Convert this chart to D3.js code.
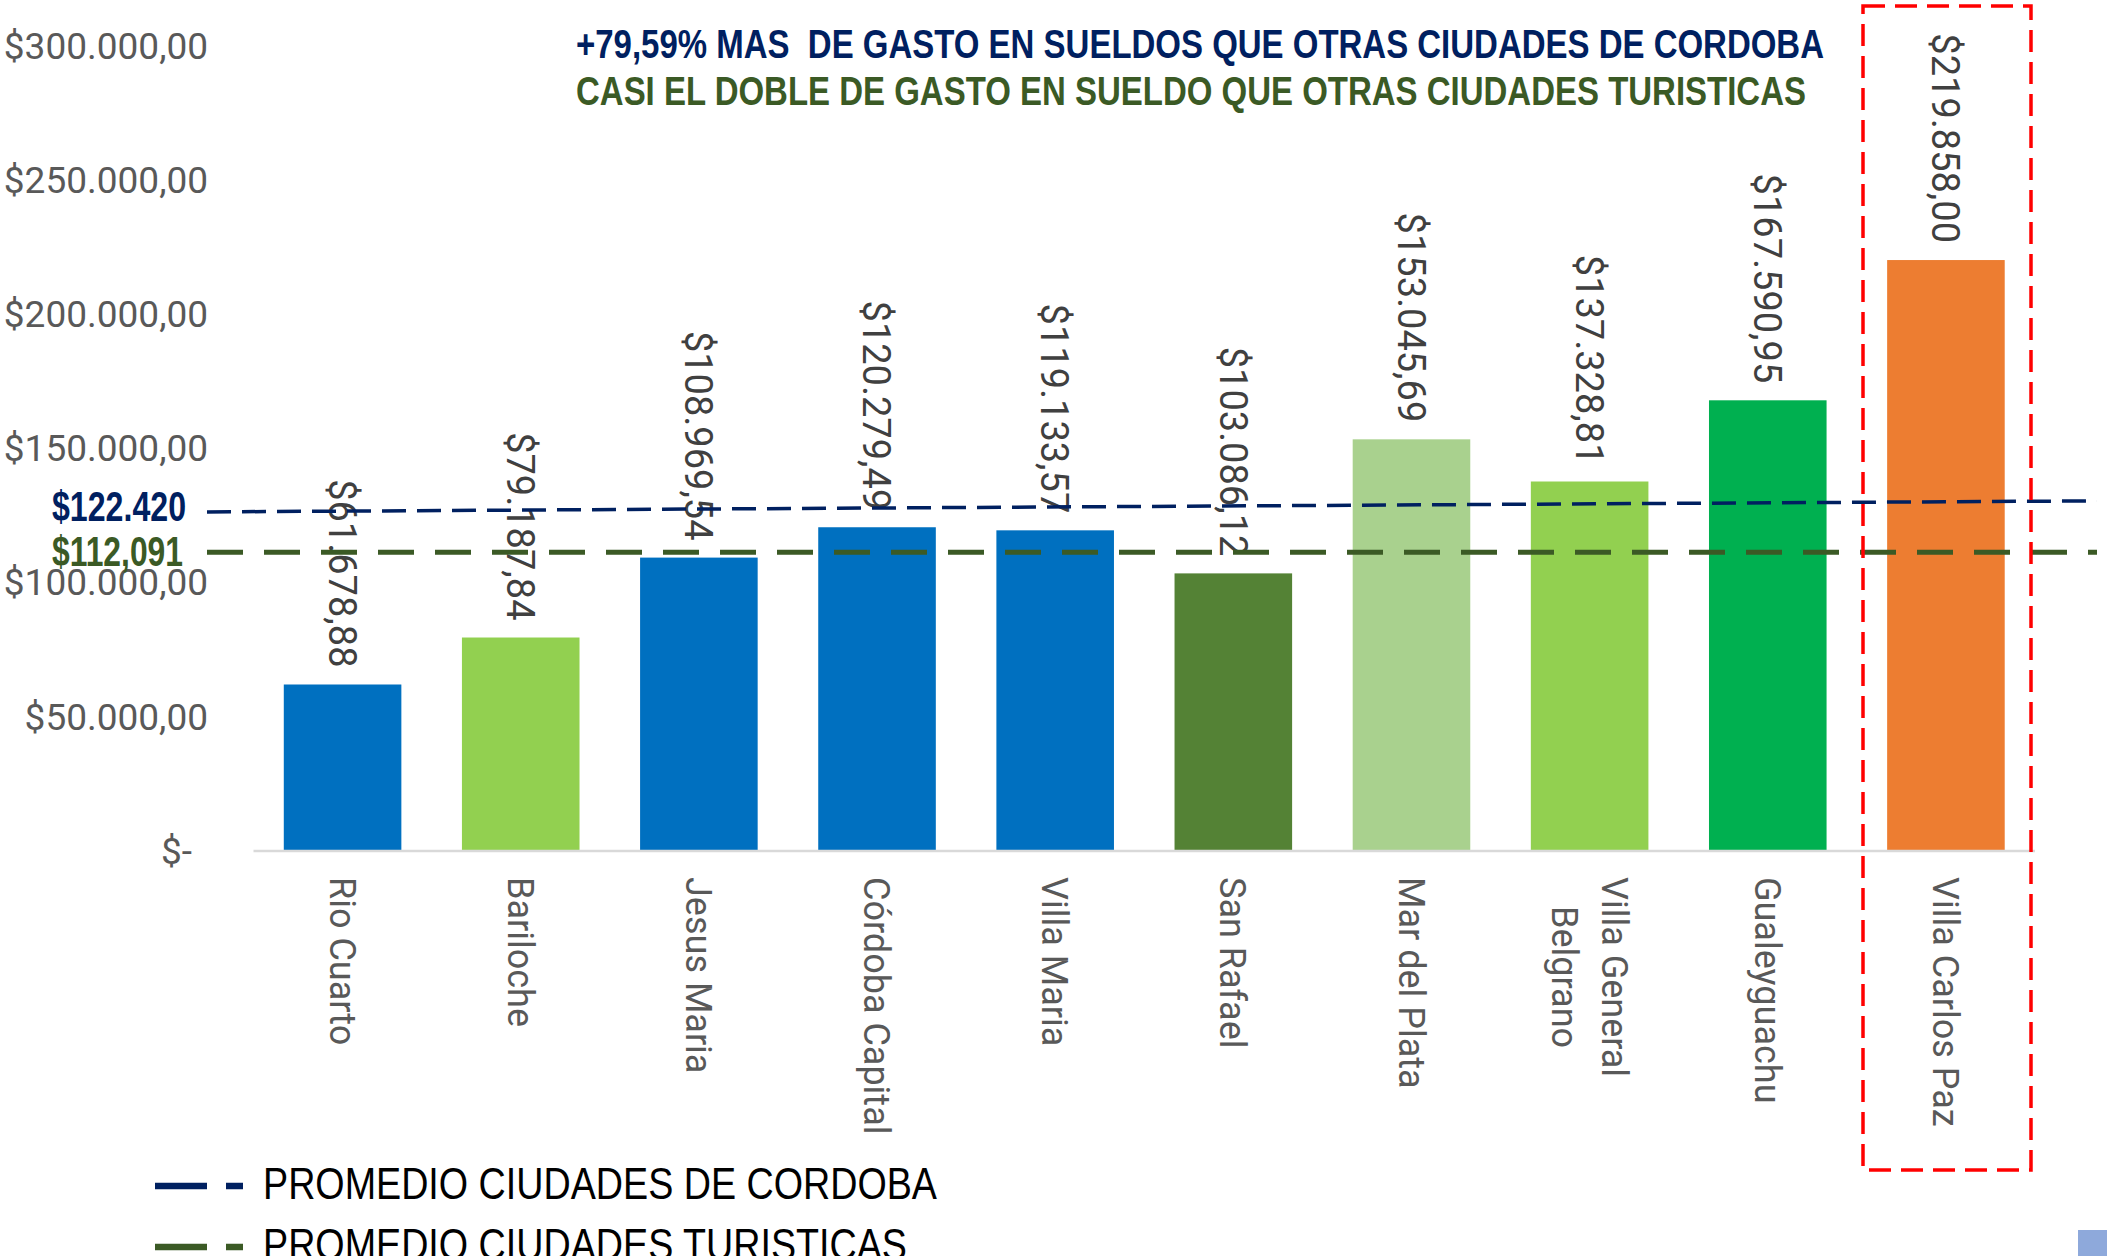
<!DOCTYPE html>
<html>
<head>
<meta charset="utf-8">
<script src="https://cdn.jsdelivr.net/npm/d3@7"></script>
<style>
	body { margin: 0; background: #fff; }
	svg { display: block; }
</style>
</head>
<body>
<svg id="plot" width="2107" height="1256"></svg>
<script>

const CITIES = ['Rio Cuarto', 'Bariloche', 'Jesus Maria', 'Córdoba Capital', 'Villa Maria',
	'San Rafael', 'Mar del Plata', 'Villa General\nBelgrano', 'Gualeyguachu', 'Villa Carlos Paz'];
const GASTO = [61678.88, 79187.84, 108969.54, 120279.49, 119133.57,
	103086.12, 153045.69, 137328.81, 167590.95, 219858.00];
const BAR_COLORS = ['#0070C0', '#92D050', '#0070C0', '#0070C0', '#0070C0',
	'#548235', '#A9D18E', '#92D050', '#00B050', '#ED7D31'];
const Y_TICKS = [0, 50000, 100000, 150000, 200000, 250000, 300000];

// averages, the cordoba line is drawn a bit tilted in the original
const AVG_CORDOBA = 122420;
const AVG_CORDOBA_ENDS = [126000, 130100];
const AVG_TURISTICAS = 112091;
const AVG_TURISTICAS_ENDS = [111000, 111000];

const TITLES = ['+79,59% MAS  DE GASTO EN SUELDOS QUE OTRAS CIUDADES DE CORDOBA',
	'CASI EL DOBLE DE GASTO EN SUELDO QUE OTRAS CIUDADES TURISTICAS'];
const LEGEND = ['PROMEDIO CIUDADES DE CORDOBA', 'PROMEDIO CIUDADES TURISTICAS'];

const NAVY = '#002060';
const DGREEN = '#3B5A25';

function fmtMoney(v) {
	// 219858 -> $219.858,00
	const parts = v.toFixed(2).split('.');
	const ent = parts[0].replace(/\B(?=(\d{3})+(?!\d))/g, '.');
	return '$' + ent + ',' + parts[1];
}

function whenDocumentLoaded(action) {
	if (document.readyState === "loading") {
		document.addEventListener("DOMContentLoaded", action);
	} else {
		action();
	}
}

function draw() {
	const svg = d3.select('#plot');
	const data = CITIES.map((c, i) => ({name: c, value: GASTO[i], color: BAR_COLORS[i]}));

	const x = d3.scaleBand().domain(CITIES).range([253.5, 2035]).paddingInner(0.34).paddingOuter(0.17);
	const y = d3.scaleLinear().domain([0, 300000]).range([850, 45]);

	// y tick labels
	const yAxis = d3.axisLeft(y).tickValues(Y_TICKS).tickSize(0).tickPadding(0)
		.tickFormat((d) => d === 0 ? '$-' : fmtMoney(d));
	const ga = svg.append('g').attr('transform', 'translate(208,0)').call(yAxis);
	ga.select('.domain').remove();
	ga.selectAll('text')
		.attr('font-family', 'Roboto, "Liberation Sans", sans-serif')
		.attr('font-size', 37)
		.attr('fill', '#595959')
		.attr('dy', '0.36em')
		.attr('x', (d) => d === 0 ? -16 : 0);

	// bars
	svg.selectAll('rect.bar')
		.data(data)
		.enter().append('rect')
		.attr('class', 'bar')
		.attr('x', (d) => x(d.name))
		.attr('y', (d) => y(d.value))
		.attr('width', x.bandwidth())
		.attr('height', (d) => y(0) - y(d.value))
		.attr('fill', (d) => d.color);

	// category axis line
	svg.append('line')
		.attr('x1', x.range()[0]).attr('x2', x.range()[1])
		.attr('y1', y(0) + 1).attr('y2', y(0) + 1)
		.attr('stroke', '#D9D9D9').attr('stroke-width', 2.5);

	// value labels, rotated
	svg.selectAll('text.val')
		.data(data)
		.enter().append('text')
		.attr('class', 'val')
		.attr('transform', (d) => `translate(${x(d.name) + x.bandwidth() / 2},${y(d.value) - 17}) rotate(90)`)
		.attr('text-anchor', 'end')
		.attr('dy', '0.36em')
		.attr('font-family', 'Roboto, "Liberation Sans", sans-serif')
		.attr('font-size', 38)
		.attr('fill', '#404040')
		.text((d) => fmtMoney(d.value));

	// category labels, rotated, lines centred on each other
	const cats = svg.selectAll('g.cat')
		.data(data)
		.enter().append('g')
		.attr('class', 'cat')
		.attr('transform', (d) => `translate(${x(d.name) + x.bandwidth() / 2},877) rotate(90)`);
	cats.each(function(d) {
		const lines = d.name.split('\n');
		const t = d3.select(this).append('text')
			.attr('font-family', 'Roboto, "Liberation Sans", sans-serif')
			.attr('font-size', 36)
			.attr('fill', '#595959');
		const spans = lines.map((l, i) => t.append('tspan')
			.attr('y', (i - (lines.length - 1) / 2) * 50)
			.attr('dy', '0.36em')
			.text(l));
		if (lines.length > 1) {
			const w = d3.max(spans, (s) => s.node().getComputedTextLength());
			spans.forEach((s) => s.attr('x', w / 2).attr('text-anchor', 'middle'));
		} else {
			spans[0].attr('x', 0);
		}
	});

	// average lines
	const lineX = [207, 2097];
	svg.append('line')
		.attr('x1', lineX[0]).attr('x2', lineX[1])
		.attr('y1', y(AVG_TURISTICAS_ENDS[0])).attr('y2', y(AVG_TURISTICAS_ENDS[1]))
		.attr('stroke', DGREEN).attr('stroke-width', 5)
		.attr('stroke-dasharray', '36,21');
	svg.append('line')
		.attr('x1', lineX[0]).attr('x2', lineX[1])
		.attr('y1', y(AVG_CORDOBA_ENDS[0])).attr('y2', y(AVG_CORDOBA_ENDS[1]))
		.attr('stroke', NAVY).attr('stroke-width', 3.5)
		.attr('stroke-dasharray', '24,11');

	const narrowBold = '"Liberation Sans Narrow", "Arial Narrow", "Liberation Sans", Arial, sans-serif';
	svg.append('text')
		.attr('x', 186).attr('y', 521)
		.attr('text-anchor', 'end')
		.attr('font-family', narrowBold).attr('font-weight', 'bold').attr('font-size', 42)
		.attr('fill', NAVY)
		.attr('textLength', 134).attr('lengthAdjust', 'spacingAndGlyphs')
		.text('$' + d3.format(',')(AVG_CORDOBA).replace(',', '.'));
	svg.append('text')
		.attr('x', 183).attr('y', 566)
		.attr('text-anchor', 'end')
		.attr('font-family', narrowBold).attr('font-weight', 'bold').attr('font-size', 42)
		.attr('fill', DGREEN)
		.attr('textLength', 131).attr('lengthAdjust', 'spacingAndGlyphs')
		.text('$' + d3.format(',')(AVG_TURISTICAS));

	// titles
	const titleLen = [1248, 1230];
	const titleCol = [NAVY, DGREEN];
	svg.selectAll('text.title')
		.data(TITLES)
		.enter().append('text')
		.attr('class', 'title')
		.attr('x', 576)
		.attr('y', (d, i) => 58 + i * 47)
		.attr('font-family', narrowBold).attr('font-weight', 'bold').attr('font-size', 40)
		.attr('fill', (d, i) => titleCol[i])
		.attr('textLength', (d, i) => titleLen[i]).attr('lengthAdjust', 'spacingAndGlyphs')
		.style('white-space', 'pre')
		.text((d) => d);

	// highlight box around Villa Carlos Paz
	svg.append('rect')
		.attr('x', 1863).attr('y', 6)
		.attr('width', 168).attr('height', 1164)
		.attr('fill', 'none')
		.attr('stroke', '#FF0000').attr('stroke-width', 3.5)
		.attr('stroke-dasharray', '22,10');

	// legend
	const legCol = [NAVY, DGREEN];
	const legLen = [674, 644];
	const leg = svg.selectAll('g.leg')
		.data(LEGEND)
		.enter().append('g')
		.attr('class', 'leg')
		.attr('transform', (d, i) => `translate(0,${1186 + i * 61})`);
	leg.append('line')
		.attr('x1', 155).attr('x2', 243)
		.attr('stroke', (d, i) => legCol[i]).attr('stroke-width', 6.5)
		.attr('stroke-dasharray', '52,19,17');
	leg.append('text')
		.attr('x', 263).attr('y', 13)
		.attr('font-family', '"Liberation Sans Narrow", "Arial Narrow", "Liberation Sans", Arial, sans-serif')
		.attr('font-size', 45)
		.attr('fill', '#000')
		.attr('textLength', (d, i) => legLen[i]).attr('lengthAdjust', 'spacingAndGlyphs')
		.text((d) => d);

	// small square bottom right
	svg.append('rect')
		.attr('x', 2078).attr('y', 1230)
		.attr('width', 29).attr('height', 26)
		.attr('fill', '#8EA9DB');
}

whenDocumentLoaded(draw);
</script>
</body>
</html>
